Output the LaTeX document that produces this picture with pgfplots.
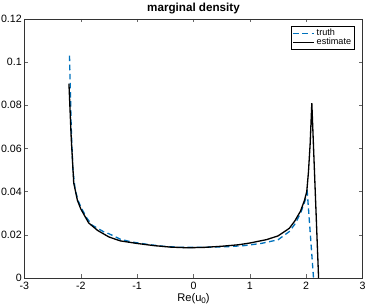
\documentclass[border=0pt]{standalone}
\usepackage{pgfplots}
\pgfplotsset{compat=1.18}
\usepackage{fontspec}
\setmainfont{Liberation Sans}
\definecolor{mblue}{rgb}{0,0.447,0.741}
\begin{document}
\begin{tikzpicture}
\begin{axis}[
  scale only axis,
  width=334pt, height=256pt,
  xmin=-3, xmax=3, ymin=0, ymax=0.12,
  xtick={-3,-2,-1,0,1,2,3},
  ytick={0,0.02,0.04,0.06,0.08,0.1,0.12},
  yticklabel style={/pgf/number format/fixed,/pgf/number format/precision=2, xshift=-1.5pt},
  scaled y ticks=false,
  /pgf/number format/assume math mode=true,
  tick align=inside,
  major tick length=3.5pt,
  tick style={color=black!60, line width=0.4pt},
  axis line style={line width=0.5pt, color=black!80},
  ticklabel style={font=\fontsize{10.5}{12}\selectfont, inner sep=1pt},
  xticklabel style={yshift=-3.5pt, inner sep=0.5pt},
  xlabel={Re(u\raisebox{-0.4ex}{\fontsize{8}{9}\selectfont 0})},
  xlabel style={font=\fontsize{11}{12}\selectfont, yshift=-2.5pt, inner sep=0.5pt},
  title={\textbf{marginal density}},
  title style={font=\fontsize{11.5}{12}\selectfont, yshift=-5pt},
  legend style={at={(1,1)}, anchor=north east, xshift=-8pt, yshift=-7pt,
    font=\fontsize{9}{10}\selectfont, inner sep=1pt, row sep=-3pt, draw=black, line width=0.5pt},
  legend cell align=left,
  legend image post style={xscale=1.2},
]
\addplot[mblue, line width=1.3pt, dash pattern=on 5.5pt off 3.5pt] coordinates {
(-2.20,0.103) (-2.17,0.070) (-2.14,0.050) (-2.10,0.041) (-2.05,0.036)
(-2.0,0.033) (-1.9,0.028) (-1.8,0.0245) (-1.6,0.0215) (-1.5,0.0205)
(-1.3,0.018) (-1.1,0.0167) (-0.8,0.0155) (-0.5,0.0146) (-0.2,0.0142)
(0,0.0142) (0.3,0.0143) (0.6,0.0145) (0.9,0.0150) (1.2,0.0160)
(1.5,0.0177) (1.7,0.0215) (1.8,0.025) (1.9,0.030) (1.97,0.035)
(2.02,0.0395) (2.13,0)
};
\addlegendentry{truth}
\addplot[black, line width=1.3pt] coordinates {
(-2.21,0.090) (-2.17,0.065) (-2.125,0.044) (-2.06,0.036) (-2.0,0.032)
(-1.86,0.0255) (-1.7,0.022) (-1.5,0.0190) (-1.3,0.0172) (-1.0,0.0160)
(-0.7,0.0150) (-0.4,0.0143) (-0.1,0.0140) (0.2,0.0142) (0.5,0.0147)
(0.8,0.0154) (1.0,0.0162) (1.3,0.0178) (1.5,0.0195) (1.7,0.023)
(1.8,0.0265) (1.9,0.031) (1.97,0.036) (2.01,0.040) (2.04,0.049)
(2.07,0.062) (2.10,0.081) (2.22,0)
};
\addlegendentry{estimate}
\end{axis}
\end{tikzpicture}
\end{document}
